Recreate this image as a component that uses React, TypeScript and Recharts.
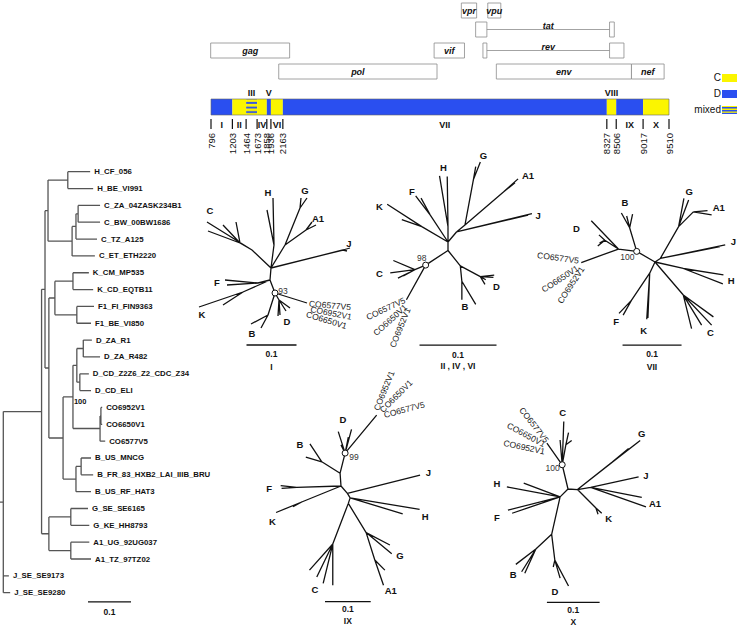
import React from "react";
import {
  ComposedChart,
  XAxis,
  YAxis,
  Line,
  Scatter,
  ReferenceArea,
  ReferenceLine,
} from "recharts";

const W = 741;
const H = 626;
const FONT = "'Liberation Sans', Arial, Helvetica, sans-serif";
const YELLOW = "#fbf500";
const BLUE = "#2a4ff0";
const INK = "#111";

// ---- genome map (HXB2 numbering) ----
const breakpoints = [796, 1203, 1464, 1673, 1858, 1936, 2163, 8327, 8506, 9017, 9510];
const regionNames = ["I", "II", "III", "IV", "V", "VI", "VII", "VIII", "IX", "X"];
const regionSubtype = ["D", "C", "mixed", "C", "D", "C", "D", "C", "D", "C"];
const regionsAbove = ["III", "V", "VIII"];

const genes = [
  { name: "gag", start: 790, end: 2292, track: 2 },
  { name: "pol", start: 2085, end: 5096, track: 3 },
  { name: "vif", start: 5041, end: 5619, track: 2 },
  { name: "vpr", start: 5559, end: 5850, track: 0 },
  { name: "vpu", start: 6062, end: 6310, track: 0 },
  { name: "env", start: 6225, end: 8795, track: 3 },
  { name: "nef", start: 8797, end: 9417, track: 3 },
];
const splicedGenes = [
  { name: "tat", exons: [[5831, 6045], [8379, 8469]], track: 1 },
  { name: "rev", exons: [[5970, 6045], [8379, 8653]], track: 2 },
];
const legendItems = ["C", "D", "mixed"];

// ---- rectangular tree (depth in substitutions/site) ----
const leftInner: [string, string, number][] = [
  ["root", "", 0],
  ["big", "root", 0.089],
  ["p1", "big", 0.097],
  ["hc", "p1", 0.104],
  ["hN", "hc", 0.15],
  ["cA", "hc", 0.16],
  ["cB", "cA", 0.169],
  ["cC", "cB", 0.174],
  ["q", "p1", 0.106],
  ["kf", "q", 0.12],
  ["kN", "kf", 0.162],
  ["fN", "kf", 0.171],
  ["db", "q", 0.139],
  ["dco", "db", 0.162],
  ["dN", "dco", 0.171],
  ["d1", "dN", 0.186],
  ["d2", "dN", 0.178],
  ["coN", "dco", 0.225],
  ["coA", "coN", 0.227],
  ["bN", "db", 0.169],
  ["b1", "bN", 0.181],
  ["ga", "big", 0.106],
  ["gN", "ga", 0.157],
  ["aN", "ga", 0.157],
];
const leftLeaves: [string, string, number][] = [
  ["H_CF_056", "hN", 0.202],
  ["H_BE_VI991", "hN", 0.209],
  ["C_ZA_04ZASK234B1", "cC", 0.225],
  ["C_BW_00BW1686", "cC", 0.225],
  ["C_TZ_A125", "cB", 0.218],
  ["C_ET_ETH2220", "cA", 0.213],
  ["K_CM_MP535", "kN", 0.199],
  ["K_CD_EQTB11", "kN", 0.209],
  ["F1_FI_FIN9363", "fN", 0.211],
  ["F1_BE_VI850", "fN", 0.204],
  ["D_ZA_R1", "d1", 0.206],
  ["D_ZA_R482", "d1", 0.225],
  ["D_CD_Z2Z6_Z2_CDC_Z34", "d2", 0.199],
  ["D_CD_ELI", "d2", 0.204],
  ["CO6952V1", "coA", 0.23],
  ["CO6650V1", "coA", 0.23],
  ["CO6577V5", "coN", 0.237],
  ["B_US_MNCG", "b1", 0.204],
  ["B_FR_83_HXB2_LAI_IIIB_BRU", "b1", 0.209],
  ["B_US_RF_HAT3", "bN", 0.204],
  ["G_SE_SE6165", "gN", 0.197],
  ["G_KE_HH8793", "gN", 0.2],
  ["A1_UG_92UG037", "aN", 0.2],
  ["A1_TZ_97TZ02", "aN", 0.204],
  ["J_SE_SE9173", "root", 0.013],
  ["J_SE_SE9280", "root", 0.016],
];
const leftBoot = { node: "dco", text: "100" };

// ---- unrooted trees: [id, parent, x, y] in substitutions/site ----
type TNode = [string, string, number, number];
type TLabel = [string, number, number];
type RLabel = [string, number, number, number];

const treeINodes: TNode[] = [
  ["r", "", 0, 0], ["h", "r", 0.006, -0.046], ["h1", "h", 0.004, -0.14], ["h2", "h", -0.008, -0.116],
  ["j", "r", 0.144, -0.036], ["j1", "j", 0.158, -0.04], ["j2", "j", 0.152, -0.034],
  ["ga", "r", 0.028, -0.046], ["g", "ga", 0.058, -0.12], ["g1", "g", 0.06, -0.14], ["g2", "g", 0.072, -0.14],
  ["a", "ga", 0.07, -0.076], ["a1", "a", 0.09, -0.086], ["a2", "a", 0.082, -0.092],
  ["c", "r", -0.038, -0.036], ["c1", "c", -0.128, -0.092], ["cm", "c", -0.062, -0.05],
  ["c2", "cm", -0.096, -0.086], ["c3", "cm", -0.07, -0.092], ["c4", "cm", -0.126, -0.074],
  ["p1", "r", -0.002, 0.024], ["f", "p1", -0.026, 0.03], ["f1", "f", -0.092, 0.024], ["f2", "f", -0.088, 0.034],
  ["k", "p1", -0.056, 0.048], ["k1", "k", -0.144, 0.078], ["k2", "k", -0.096, 0.074],
  ["p2", "p1", 0.008, 0.05], ["b", "p2", -0.006, 0.094], ["b1", "b", -0.04, 0.112], ["b2", "b", -0.02, 0.12],
  ["d", "p2", 0.016, 0.064], ["d1", "d", 0.014, 0.096], ["d2", "d", 0.018, 0.094], ["d3", "d", 0.03, 0.086],
  ["d4", "d", 0.038, 0.08], ["co", "p2", 0.072, 0.07],
];
const treeILabels: TLabel[] = [
  ["H", -0.006, -0.152], ["G", 0.068, -0.156], ["A1", 0.094, -0.1], ["J", 0.156, -0.05], ["C", -0.122, -0.116],
  ["F", -0.108, 0.028], ["K", -0.138, 0.092], ["B", -0.038, 0.13], ["D", 0.032, 0.106],
];
const treeICo: RLabel[] = [
  ["CO6577V5", 0.076, 0.071, 5], ["CO6952V1", 0.079, 0.082, 11], ["CO6650V1", 0.071, 0.092, 17],
];

const treeIINodes: TNode[] = [
  ["r", "", 0, 0], ["h", "r", 0, -0.02], ["h1", "h", -0.001, -0.085], ["h2", "h", -0.011, -0.086],
  ["gaj", "r", 0.011, -0.013], ["j1", "gaj", 0.109, -0.037], ["j2", "gaj", 0.104, -0.035],
  ["ga", "gaj", 0.022, -0.022], ["g", "ga", 0.033, -0.081], ["g1", "g", 0.042, -0.104], ["g2", "g", 0.036, -0.098],
  ["a", "ga", 0.072, -0.065], ["a1", "a", 0.091, -0.082], ["a2", "a", 0.087, -0.077],
  ["f", "r", -0.023, -0.035], ["f1", "f", -0.042, -0.06], ["f2", "f", -0.035, -0.057],
  ["k", "r", -0.034, -0.02], ["k1", "k", -0.079, -0.049], ["k2", "k", -0.06, -0.029],
  ["q1", "r", 0, 0.011], ["bd", "q1", 0.016, 0.031], ["d", "bd", 0.042, 0.045], ["d1", "d", 0.06, 0.043],
  ["d2", "d", 0.059, 0.046], ["d3", "d", 0.048, 0.055], ["d4", "d", 0.049, 0.049],
  ["b", "bd", 0.018, 0.051], ["b1", "b", 0.018, 0.075], ["b2", "b", 0.036, 0.081],
  ["bt", "q1", -0.029, 0.03], ["c", "bt", -0.043, 0.036], ["c1", "c", -0.071, 0.024], ["c2", "c", -0.075, 0.04],
  ["c3", "c", -0.065, 0.047], ["c4", "c", -0.058, 0.044], ["co", "bt", -0.054, 0.075],
];
const treeIILabels: TLabel[] = [
  ["H", -0.006, -0.097], ["G", 0.046, -0.112], ["A1", 0.104, -0.086], ["J", 0.117, -0.035], ["F", -0.047, -0.065],
  ["K", -0.089, -0.046], ["C", -0.089, 0.041], ["D", 0.063, 0.058], ["B", 0.022, 0.084],
];
const treeIICo: RLabel[] = [
  ["CO6577V5", -0.056, 0.075, -25], ["CO6650V1", -0.055, 0.083, -42], ["CO6952V1", -0.052, 0.086, -68],
];

const treeVIINodes: TNode[] = [
  ["r", "", 0, 0], ["bt", "r", -0.031, -0.018], ["b", "bt", -0.043, -0.058], ["b1", "b", -0.057, -0.083],
  ["b2", "b", -0.048, -0.078], ["b3", "b", -0.038, -0.081], ["dc", "bt", -0.062, -0.022],
  ["d1", "dc", -0.108, -0.07], ["dn", "dc", -0.085, -0.037], ["d2", "dn", -0.095, -0.046],
  ["d3", "dn", -0.097, -0.027], ["d4", "dn", -0.094, -0.032], ["co", "dc", -0.125, 0.001],
  ["gaj", "r", 0.009, -0.006], ["j1", "gaj", 0.119, -0.029], ["j2", "gaj", 0.11, -0.026],
  ["ga", "gaj", 0.04, -0.06], ["g1", "ga", 0.049, -0.108], ["g2", "ga", 0.057, -0.105],
  ["a", "ga", 0.065, -0.085], ["a1", "a", 0.089, -0.087], ["a2", "a", 0.096, -0.08],
  ["h", "r", 0.048, 0.011], ["h1", "h", 0.116, 0.022], ["h2", "h", 0.115, 0.037],
  ["c", "r", 0.048, 0.056], ["c1", "c", 0.099, 0.093], ["c2", "c", 0.096, 0.107], ["c3", "c", 0.079, 0.107],
  ["c4", "c", 0.062, 0.113], ["fk", "r", -0.009, 0.019], ["f", "fk", -0.04, 0.065], ["f1", "f", -0.061, 0.087],
  ["f2", "f", -0.054, 0.09], ["k1", "fk", -0.014, 0.097], ["k2", "fk", -0.012, 0.095],
];
const treeVIILabels: TLabel[] = [
  ["B", -0.051, -0.101], ["D", -0.133, -0.056], ["G", 0.058, -0.12], ["A1", 0.108, -0.093], ["J", 0.133, -0.035],
  ["H", 0.129, 0.032], ["C", 0.094, 0.12], ["F", -0.066, 0.1], ["K", -0.019, 0.116],
];
const treeVIICo: RLabel[] = [
  ["CO6577V5", -0.129, -0.002, 8], ["CO6650V1", -0.131, 0.009, -33], ["CO6952V1", -0.123, 0.009, -57],
];

const treeIXNodes: TNode[] = [
  ["r", "", 0, 0], ["bn", "r", -0.002, -0.028], ["bt", "bn", 0.009, -0.072], ["d1", "bt", -0.006, -0.119],
  ["d2", "bt", 0, -0.09], ["d3", "bt", 0.023, -0.124], ["d4", "bt", 0.016, -0.107], ["co", "bt", 0.078, -0.155],
  ["b", "bn", -0.042, -0.053], ["b1", "b", -0.068, -0.092], ["b2", "b", -0.077, -0.063],
  ["f", "r", -0.097, 0.003], ["f1", "f", -0.132, -0.001], ["f2", "f", -0.13, 0.005],
  ["k", "r", -0.086, 0.035], ["k1", "k", -0.142, 0.058], ["k2", "k", -0.105, 0.045],
  ["jh", "r", 0.014, 0.016], ["j1", "jh", 0.173, -0.024], ["h", "jh", 0.02, 0.026], ["h1", "h", 0.172, 0.051],
  ["h2", "h", 0.135, 0.061], ["cga", "h", 0.016, 0.038], ["cn", "cga", -0.018, 0.127], ["c1", "cn", -0.069, 0.184],
  ["c2", "cn", -0.053, 0.199], ["c3", "cn", -0.039, 0.213], ["c4", "cn", -0.018, 0.217],
  ["ga", "cga", 0.055, 0.102], ["g1", "ga", 0.107, 0.129], ["g2", "ga", 0.111, 0.148], ["a", "ga", 0.074, 0.162],
  ["a1", "a", 0.093, 0.217], ["a2", "a", 0.096, 0.184],
];
const treeIXLabels: TLabel[] = [
  ["D", 0.004, -0.146], ["B", -0.09, -0.09], ["F", -0.157, 0.005], ["K", -0.15, 0.078], ["J", 0.191, -0.029],
  ["H", 0.184, 0.067], ["G", 0.129, 0.153], ["A1", 0.109, 0.229], ["C", -0.057, 0.226],
];
const treeIXCo: RLabel[] = [
  ["CO6952V1", 0.077, -0.166, -68], ["CO6650V1", 0.088, -0.164, -45], ["CO6577V5", 0.094, -0.155, -15],
];

const treeXNodes: TNode[] = [
  ["r", "", 0, 0], ["bt", "r", -0.011, -0.046], ["c", "bt", -0.004, -0.084], ["c1", "bt", -0.008, -0.128],
  ["c2", "c", 0.001, -0.107], ["c3", "c", 0.007, -0.092], ["c4", "bt", -0.015, -0.093], ["co", "bt", -0.04, -0.087],
  ["gjak", "r", 0.018, 0.001], ["g", "gjak", 0.084, -0.051], ["g1", "g", 0.137, -0.092], ["g2", "g", 0.115, -0.077],
  ["ja", "gjak", 0.043, -0.003], ["j1", "ja", 0.134, -0.023], ["a1", "ja", 0.14, 0.016], ["a2", "ja", 0.148, 0.034],
  ["k", "gjak", 0.053, 0.036], ["k1", "k", 0.064, 0.046], ["k2", "k", 0.057, 0.048],
  ["hf", "r", -0.015, 0.015], ["h1", "hf", -0.116, -0.004], ["h2", "hf", -0.084, -0.011],
  ["f1", "hf", -0.114, 0.04], ["f2", "hf", -0.106, 0.046], ["bd", "hf", -0.031, 0.086],
  ["b", "bd", -0.061, 0.114], ["b1", "b", -0.099, 0.143], ["b2", "b", -0.088, 0.157], ["b3", "b", -0.082, 0.16],
  ["d", "bd", -0.025, 0.135], ["d1", "d", 0.001, 0.184], ["d2", "d", -0.028, 0.148], ["d3", "d", -0.015, 0.169],
];
const treeXLabels: TLabel[] = [
  ["C", -0.01, -0.145], ["G", 0.14, -0.106], ["J", 0.148, -0.025], ["A1", 0.165, 0.027], ["K", 0.077, 0.056],
  ["H", -0.135, -0.011], ["F", -0.135, 0.055], ["B", -0.104, 0.163], ["D", -0.025, 0.195],
];
const treeXCo: RLabel[] = [
  ["CO6577V5", -0.04, -0.09, 52], ["CO6650V1", -0.044, -0.084, 28], ["CO6952V1", -0.044, -0.071, 12],
];

// ---- layout ----
const MAP = { left: 211, right: 669, bp0: 796, bp1: 9510 };
const TRACK_TOP = [3, 22, 43, 64];
const TRACK_H = 15;
const BAR = [99, 115];
const TICK = [119, 129];
const NUM_TOP = 133;
const ROW_BELOW = 125;
const ROW_ABOVE = 93;

const LT = { x0: 3.3, pxPerUnit: 430, y0: 171.7, step: 16.84, barX: 0.197 };

const trees = [
  { key: "t1", nodes: treeINodes, labels: treeILabels, co: treeICo, coAnchor: "start", boot: "93", bootNode: "p2",
    cx: 271, cy: 268, barPx: 50, barX: -0.049, barY: 0.154, numY: 0.172, title: "I", titleX: 0.001, titleY: 0.198,
    bootLabel: { x: 0.0146, y: 0.045, anchor: "start" } },
  { key: "t2", nodes: treeIINodes, labels: treeIILabels, co: treeIICo, coAnchor: "end", boot: "98", bootNode: "bt",
    cx: 448, cy: 242, barPx: 77, barX: -0.037, barY: 0.134, numY: 0.147, title: "II , IV , VI", titleX: 0.013, titleY: 0.161,
    bootLabel: { x: -0.034, y: 0.021, anchor: "middle" } },
  { key: "t7", nodes: treeVIINodes, labels: treeVIILabels, co: treeVIICo, coAnchor: "end", boot: "100", bootNode: "bt",
    cx: 655, cy: 262, barPx: 59, barX: -0.055, barY: 0.141, numY: 0.156, title: "VII", titleX: -0.005, titleY: 0.178,
    bootLabel: { x: -0.047, y: -0.009, anchor: "middle" } },
  { key: "t9", nodes: treeIXNodes, labels: treeIXLabels, co: treeIXCo, coAnchor: "start", boot: "99", bootNode: "bt",
    cx: 341, cy: 486, barPx: 45.7, barX: -0.035, barY: 0.253, numY: 0.269, title: "IX", titleX: 0.015, titleY: 0.296,
    bootLabel: { x: 0.018, y: -0.063, anchor: "start" } },
  { key: "t10", nodes: treeXNodes, labels: treeXLabels, co: treeXCo, coAnchor: "end", boot: "100", bootNode: "bt",
    cx: 568, cy: 489, barPx: 52.7, barX: -0.04, barY: 0.215, numY: 0.23, title: "X", titleX: 0.01, titleY: 0.252,
    bootLabel: { x: -0.029, y: -0.039, anchor: "middle" } },
];

const fillFor: Record<string, string> = { C: YELLOW, D: BLUE, mixed: "url(#mixedStripes)" };

function textShape(o: { size: number; weight?: string | number; color?: string; italic?: boolean; anchor?: string; dx?: number; dy?: number; rotate?: number }) {
  return (props: any) => {
    const { cx, cy, payload } = props;
    if (cx == null || cy == null || Number.isNaN(cx)) return <g />;
    const x = cx + (o.dx ?? 0);
    const y = cy + (o.dy ?? 0);
    const rot = payload.rot ?? o.rotate ?? 0;
    return (
      <text
        x={x}
        y={y}
        textAnchor={(payload.anchor ?? o.anchor ?? "middle") as any}
        dominantBaseline="central"
        transform={rot ? `rotate(${rot} ${x} ${y})` : undefined}
        fontFamily={FONT}
        fontSize={o.size}
        fontWeight={o.weight ?? "normal"}
        fontStyle={o.italic ? "italic" : "normal"}
        fill={o.color ?? INK}
      >
        {payload.text}
      </text>
    );
  };
}

const bootCircle = (props: any) => {
  const { cx, cy } = props;
  return <circle cx={cx} cy={cy} r={3} fill="#fff" stroke={INK} strokeWidth={1} />;
};

function treeEdges(nodes: TNode[]) {
  const byId = new Map(nodes.map((n) => [n[0], n]));
  const out: { x: number | null; y: number | null }[] = [];
  nodes.forEach(([, parent, x, y]) => {
    const p = byId.get(parent);
    if (!p) return;
    out.push({ x: p[2], y: p[3] }, { x, y }, { x: null, y: null });
  });
  return out;
}

function leftTreeLayout() {
  const depth = new Map<string, number>();
  const parent = new Map<string, string>();
  const yOf = new Map<string, number>();
  leftInner.forEach(([id, p, d]) => { depth.set(id, d); parent.set(id, p); });
  leftLeaves.forEach(([id, p, d], i) => { depth.set(id, d); parent.set(id, p); yOf.set(id, i); });
  const kids = new Map<string, string[]>();
  parent.forEach((p, id) => {
    if (!p) return;
    if (!kids.has(p)) kids.set(p, []);
    kids.get(p)!.push(id);
  });
  const getY = (id: string): number => {
    if (yOf.has(id)) return yOf.get(id)!;
    const ys = kids.get(id)!.map(getY);
    const y = (Math.min(...ys) + Math.max(...ys)) / 2;
    yOf.set(id, y);
    return y;
  };
  getY("root");
  const edges: { x: number | null; y: number | null }[] = [];
  parent.forEach((p, id) => {
    const y = yOf.get(id)!;
    if (p) edges.push({ x: depth.get(p)!, y }, { x: depth.get(id)!, y }, { x: null, y: null });
    const ks = kids.get(id);
    if (ks) {
      const ys = ks.map((k) => yOf.get(k)!);
      edges.push({ x: depth.get(id)!, y: Math.min(...ys) }, { x: depth.get(id)!, y: Math.max(...ys) }, { x: null, y: null });
    }
  });
  const rootY = yOf.get("root")!;
  edges.push({ x: -0.008, y: rootY }, { x: 0, y: rootY }, { x: null, y: null });
  const leaves = leftLeaves.map(([id, , d], i) => ({ x: d, y: i, text: id }));
  const boot = [{ x: depth.get(leftBoot.node)!, y: yOf.get(leftBoot.node)!, text: leftBoot.text }];
  return { edges, leaves, boot };
}

function axesFor(id: string, xd: [number, number], yd: [number, number]) {
  return [
    <XAxis key={`x-${id}`} xAxisId={id} type="number" dataKey="x" domain={xd} allowDataOverflow hide />,
    <YAxis key={`y-${id}`} yAxisId={id} type="number" dataKey="y" domain={yd} allowDataOverflow hide reversed />,
  ];
}

function renderTree(t: (typeof trees)[number]) {
  const u = 0.1 / t.barPx;
  const xd: [number, number] = [-t.cx * u, (W - t.cx) * u];
  const yd: [number, number] = [-t.cy * u, (H - t.cy) * u];
  const bootNode = t.nodes.find((n) => n[0] === t.bootNode)!;
  const id = t.key;
  return [
    ...axesFor(id, xd, yd),
    <Line key={`l-${id}`} xAxisId={id} yAxisId={id} data={treeEdges(t.nodes)} dataKey="y" stroke={INK}
      strokeWidth={1.3} dot={false} activeDot={false} isAnimationActive={false} connectNulls={false} />,
    <ReferenceLine key={`sb-${id}`} xAxisId={id} yAxisId={id} stroke={INK} strokeWidth={1.3}
      segment={[{ x: t.barX, y: t.barY }, { x: t.barX + 0.1, y: t.barY }]} />,
    <Scatter key={`bc-${id}`} xAxisId={id} yAxisId={id} data={[{ x: bootNode[2], y: bootNode[3] }]}
      shape={bootCircle} isAnimationActive={false} />,
    <Scatter key={`bl-${id}`} xAxisId={id} yAxisId={id}
      data={[{ x: t.bootLabel.x, y: t.bootLabel.y, text: t.boot, anchor: t.bootLabel.anchor }]}
      shape={textShape({ size: 8.5, color: "#333" })} isAnimationActive={false} />,
    <Scatter key={`cl-${id}`} xAxisId={id} yAxisId={id}
      data={t.labels.map(([text, x, y]) => ({ x, y, text }))}
      shape={textShape({ size: 9.5, weight: "bold" })} isAnimationActive={false} />,
    <Scatter key={`co-${id}`} xAxisId={id} yAxisId={id}
      data={t.co.map(([text, x, y, rot]) => ({ x, y, text, rot }))}
      shape={textShape({ size: 8.5, color: "#222", anchor: t.coAnchor })} isAnimationActive={false} />,
    <Scatter key={`tt-${id}`} xAxisId={id} yAxisId={id}
      data={[
        { x: t.barX + 0.05, y: t.numY, text: "0.1" },
        { x: t.titleX, y: t.titleY, text: t.title },
      ]}
      shape={textShape({ size: 8.5, weight: "bold" })} isAnimationActive={false} />,
  ];
}

export default function App() {
  const s = (MAP.right - MAP.left) / (MAP.bp1 - MAP.bp0);
  const mapX: [number, number] = [MAP.bp0 - MAP.left / s, MAP.bp0 + (W - MAP.left) / s];
  const lt = leftTreeLayout();
  const ltX: [number, number] = [-LT.x0 / LT.pxPerUnit, (W - LT.x0) / LT.pxPerUnit];
  const ltY: [number, number] = [-LT.y0 / LT.step, (H - LT.y0) / LT.step];
  const barRow = leftLeaves.length - 1 + 0.55;

  const regionText = regionNames.map((name, i) => ({
    x: (breakpoints[i] + breakpoints[i + 1]) / 2,
    y: regionsAbove.includes(name) ? ROW_ABOVE : ROW_BELOW,
    text: name,
  }));
  const posText = breakpoints.map((b) => ({ x: b, y: NUM_TOP, text: String(b) }));
  const geneText = [
    ...genes.map((g) => ({ x: (g.start + g.end) / 2, y: TRACK_TOP[g.track] + TRACK_H / 2, text: g.name })),
    ...splicedGenes.map((g) => ({
      x: (g.exons[0][1] + g.exons[1][0]) / 2,
      y: TRACK_TOP[g.track] + TRACK_H / 2 - 4,
      text: g.name,
    })),
  ];

  return (
    <div style={{ position: "absolute", left: 0, top: 0, width: W, height: H, background: "#fff" }}>
      <ComposedChart width={W} height={H} margin={{ top: 0, right: 0, bottom: 0, left: 0 }}>
        <defs>
          <pattern id="mixedStripes" width="6" height="4.6" patternUnits="userSpaceOnUse">
            <rect width="6" height="4.6" fill={YELLOW} />
            <rect y="0.8" width="6" height="1.8" fill={BLUE} />
          </pattern>
        </defs>
        {axesFor("map", mapX, [0, H])}
        {genes.map((g) => (
          <ReferenceArea key={g.name} xAxisId="map" yAxisId="map" x1={g.start} x2={g.end}
            y1={TRACK_TOP[g.track]} y2={TRACK_TOP[g.track] + TRACK_H}
            fill="#fff" fillOpacity={1} stroke="#8c8c8c" strokeWidth={0.8} />
        ))}
        {splicedGenes.map((g) => (
          <ReferenceLine key={`${g.name}-link`} xAxisId="map" yAxisId="map" stroke="#8c8c8c" strokeWidth={0.8}
            segment={[
              { x: g.exons[0][1], y: TRACK_TOP[g.track] + TRACK_H / 2 },
              { x: g.exons[1][0], y: TRACK_TOP[g.track] + TRACK_H / 2 },
            ]} />
        ))}
        {splicedGenes.flatMap((g) =>
          g.exons.map((e, i) => (
            <ReferenceArea key={`${g.name}-${i}`} xAxisId="map" yAxisId="map" x1={e[0]} x2={e[1]}
              y1={TRACK_TOP[g.track]} y2={TRACK_TOP[g.track] + TRACK_H}
              fill="#fff" fillOpacity={1} stroke="#8c8c8c" strokeWidth={0.8} />
          ))
        )}
        {regionSubtype.map((st, i) => (
          <ReferenceArea key={`seg-${i}`} xAxisId="map" yAxisId="map" x1={breakpoints[i]} x2={breakpoints[i + 1]}
            y1={BAR[0]} y2={BAR[1]} fill={fillFor[st]} fillOpacity={1} stroke="none" />
        ))}
        <ReferenceArea xAxisId="map" yAxisId="map" x1={breakpoints[0]} x2={breakpoints[breakpoints.length - 1]}
          y1={BAR[0]} y2={BAR[1]} fill="none" stroke="#666" strokeWidth={0.6} />
        {breakpoints.map((b) => (
          <ReferenceLine key={`tk-${b}`} xAxisId="map" yAxisId="map" stroke={INK} strokeWidth={1.2}
            segment={[{ x: b, y: TICK[0] }, { x: b, y: TICK[1] }]} />
        ))}
        <Scatter xAxisId="map" yAxisId="map" data={geneText}
          shape={textShape({ size: 9, weight: "bold", italic: true })} isAnimationActive={false} />
        <Scatter xAxisId="map" yAxisId="map" data={regionText}
          shape={textShape({ size: 9, weight: "bold" })} isAnimationActive={false} />
        <Scatter xAxisId="map" yAxisId="map" data={posText}
          shape={textShape({ size: 9.5, anchor: "end", rotate: -90 })} isAnimationActive={false} />

        {axesFor("lt", ltX, ltY)}
        <Line xAxisId="lt" yAxisId="lt" data={lt.edges} dataKey="y" stroke="#555" strokeWidth={1.3}
          dot={false} activeDot={false} isAnimationActive={false} connectNulls={false} />
        <Scatter xAxisId="lt" yAxisId="lt" data={lt.leaves}
          shape={textShape({ size: 7.8, weight: "bold", anchor: "start", dx: 4 })} isAnimationActive={false} />
        <Scatter xAxisId="lt" yAxisId="lt" data={lt.boot}
          shape={textShape({ size: 7.5, weight: "bold", anchor: "start", dx: 1, dy: 5 })} isAnimationActive={false} />
        <ReferenceLine xAxisId="lt" yAxisId="lt" stroke={INK} strokeWidth={1.3}
          segment={[{ x: LT.barX, y: barRow }, { x: LT.barX + 0.1, y: barRow }]} />
        <Scatter xAxisId="lt" yAxisId="lt" data={[{ x: LT.barX + 0.05, y: barRow + 0.6, text: "0.1" }]}
          shape={textShape({ size: 8.5, weight: "bold" })} isAnimationActive={false} />

        {trees.flatMap((t) => renderTree(t))}
      </ComposedChart>
      {legendItems.map((item, i) => (
        <div key={item} style={{ position: "absolute", left: 660, top: 73 + i * 16, width: 77, height: 9,
          display: "flex", justifyContent: "flex-end", alignItems: "center", fontFamily: FONT, fontSize: 10, color: INK }}>
          <span style={{ marginRight: 1 }}>{item}</span>
          <svg width={15} height={8}>
            <rect width={15} height={8} fill={item === "mixed" ? "url(#legendStripes)" : fillFor[item]} />
            {item === "mixed" && (
              <>
                <rect width={15} height={8} fill={YELLOW} />
                <rect y={1} width={15} height={1.5} fill={BLUE} />
                <rect y={4} width={15} height={1.5} fill={BLUE} />
                <rect y={6.8} width={15} height={1.2} fill={BLUE} />
              </>
            )}
          </svg>
        </div>
      ))}
    </div>
  );
}
